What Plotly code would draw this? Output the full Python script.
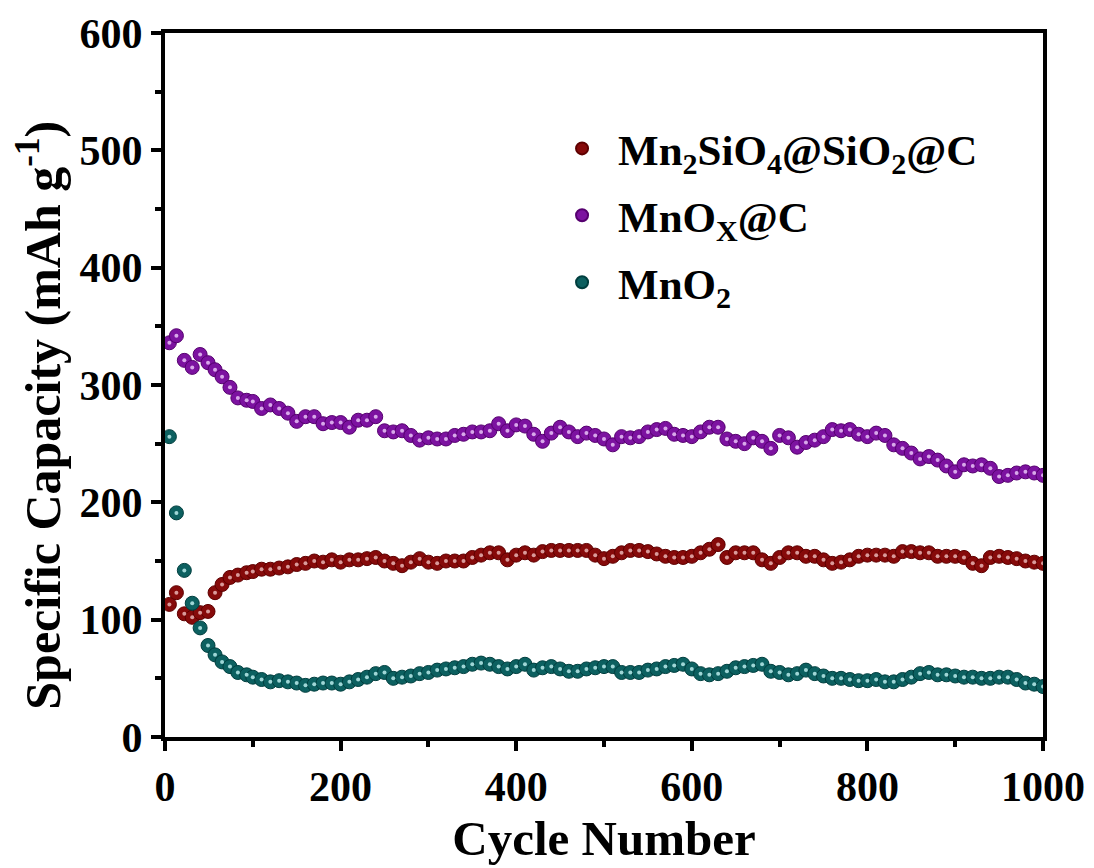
import plotly.graph_objects as go

# Cycle numbers (early cycles read individually, then every 10 cycles)
cycles = [5, 13, 22, 31, 40, 49, 57, 65, 74, 83, 93,
          100, 110, 120, 130, 140, 150, 160, 170, 180, 190,
          200, 210, 220, 230, 240, 250, 260, 270, 280, 290,
          300, 310, 320, 330, 340, 350, 360, 370, 380, 390,
          400, 410, 420, 430, 440, 450, 460, 470, 480, 490,
          500, 510, 520, 530, 540, 550, 560, 570, 580, 590,
          600, 610, 620, 630, 640, 650, 660, 670, 680, 690,
          700, 710, 720, 730, 740, 750, 760, 770, 780, 790,
          800, 810, 820, 830, 840, 850, 860, 870, 880, 890,
          900, 910, 920, 930, 940, 950, 960, 970, 980, 990, 1000]

mn2sio4 = [113, 123, 105, 102, 106, 107, 123, 130, 136, 138, 140,
           141, 143, 143, 144, 145, 147, 148, 150, 149, 151,
           149, 151, 151, 152, 153, 150, 148, 146, 149, 152,
           149, 148, 150, 150, 150, 153, 155, 157, 157, 151,
           155, 157, 155, 158, 159, 159, 159, 159, 159, 155,
           152, 154, 157, 159, 159, 158, 156, 154, 153, 153,
           154, 157, 160, 164, 153, 157, 157, 157, 151, 148,
           153, 157, 157, 154, 154, 151, 148, 149, 151, 154,
           155, 155, 155, 154, 158, 158, 157, 157, 154, 154,
           154, 153, 148, 146, 153, 154, 153, 152, 150, 149, 148]

mnox = [336, 342, 321, 315, 326, 319, 313, 307, 298, 289, 287,
        286, 280, 283, 280, 276, 269, 273, 273, 267, 268,
        268, 264, 270, 270, 273, 261, 260, 261, 257, 253,
        255, 254, 254, 257, 258, 260, 260, 261, 267, 261,
        266, 265, 258, 252, 259, 264, 260, 256, 259, 257,
        254, 249, 256, 255, 256, 260, 262, 263, 258, 257,
        256, 260, 264, 264, 254, 252, 250, 255, 252, 246,
        257, 255, 247, 251, 253, 256, 262, 261, 262, 258,
        256, 259, 257, 249, 246, 242, 237, 239, 236, 231,
        226, 232, 231, 232, 229, 222, 223, 225, 226, 225, 223]

mno2 = [256, 191, 142, 114, 93, 78, 70, 64, 60, 55, 53,
        51, 49, 47, 48, 47, 46, 44, 45, 46, 46,
        45, 47, 49, 51, 54, 55, 50, 51, 52, 54,
        55, 57, 58, 59, 60, 62, 63, 62, 60, 58,
        60, 62, 57, 59, 60, 58, 56, 56, 58, 59,
        60, 60, 55, 55, 55, 57, 58, 60, 61, 62,
        58, 54, 53, 54, 56, 59, 60, 61, 62, 56,
        55, 53, 54, 57, 54, 52, 50, 50, 49, 48,
        48, 49, 47, 47, 49, 51, 54, 55, 53, 53,
        52, 51, 51, 50, 50, 51, 51, 49, 46, 45, 43]

series = [
    ("Mn<sub>2</sub>SiO<sub>4</sub>@SiO<sub>2</sub>@C", mn2sio4, "#860a0a", "#5e0000", "#d99a9a"),
    ("MnO<sub>X</sub>@C", mnox, "#7c12a0", "#56006f", "#d8a8ea"),
    ("MnO<sub>2</sub>", mno2, "#0c6060", "#003e3e", "#9fd6d6"),
]

FONT = "Times New Roman, Liberation Serif, serif"

fig = go.Figure()
for i, (name, vals, dark, edge, light) in enumerate(series):
    fig.add_trace(go.Scatter(
        x=cycles, y=vals, name=name, mode="markers",
        legendgroup=f"g{i}",
        marker=dict(size=14, color=dark, line=dict(width=1, color=edge)),
    ))
    fig.add_trace(go.Scatter(
        x=cycles, y=vals, name=name, mode="markers",
        legendgroup=f"g{i}", showlegend=False, hoverinfo="skip",
        marker=dict(size=4, color=light, line=dict(width=0)),
    ))

axis_common = dict(
    showline=True, linecolor="black", linewidth=4, mirror=True,
    ticks="outside", ticklen=10, tickwidth=4, tickcolor="black",
    showgrid=False, zeroline=False,
    tickfont=dict(family=FONT, size=42, color="black", weight="bold"),
)

fig.update_layout(
    width=1086, height=860,
    paper_bgcolor="white", plot_bgcolor="white",
    margin=dict(l=157, r=51, t=25, b=131, autoexpand=False),
    font=dict(family=FONT, color="black"),
    xaxis=dict(range=[0, 1000], dtick=200, tick0=0,
               title=dict(text="<b>Cycle Number</b>",
                          font=dict(family=FONT, size=49, color="black"),
                          standoff=12),
               minor=dict(dtick=100, ticklen=6, tickwidth=4, tickcolor="black", ticks="outside"),
               **axis_common),
    yaxis=dict(range=[0, 600], dtick=100, tick0=0,
               minor=dict(dtick=50, ticklen=6, tickwidth=4, tickcolor="black", ticks="outside"),
               **axis_common),
    legend=dict(x=0.434, y=0.885, xanchor="left", yanchor="top",
                bgcolor="rgba(0,0,0,0)", borderwidth=0,
                tracegroupgap=8, itemwidth=62, itemsizing="constant",
                font=dict(family=FONT, size=43, color="black", weight="bold")),
    annotations=[dict(
        text="<b>Specific Capacity (mAh g<sup>-1</sup>)</b>",
        xref="paper", yref="paper", x=-0.143, y=0.457,
        xanchor="center", yanchor="middle", textangle=-90, showarrow=False,
        font=dict(family=FONT, size=50, color="black"),
    )],
)

fig.write_html("out.html")
